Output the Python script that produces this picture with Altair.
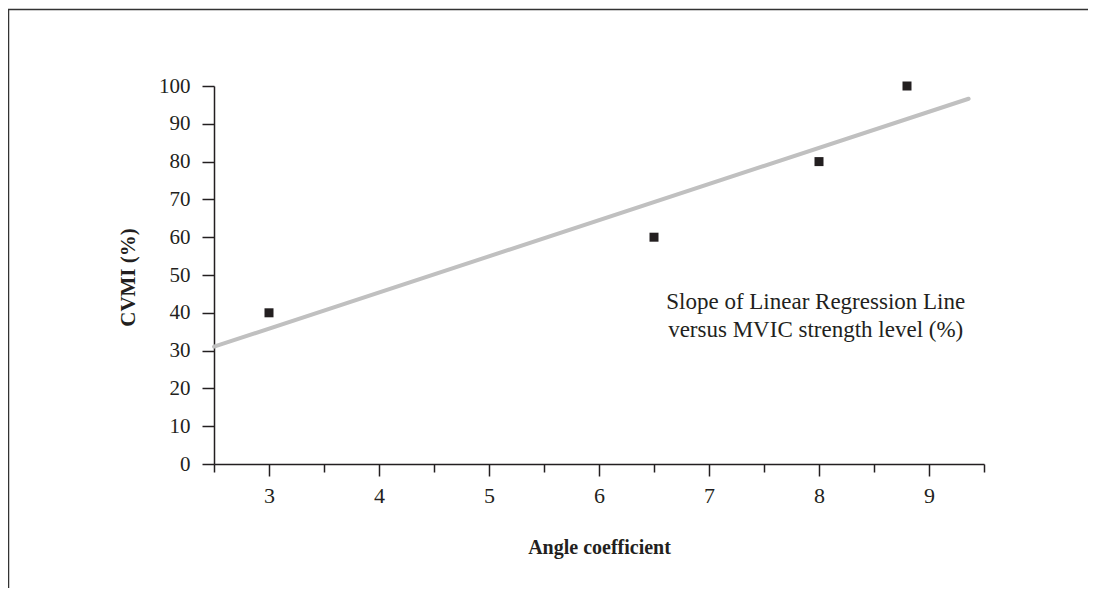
import altair as alt
import pandas as pd

# data
angle_coef = [3.0, 6.5, 8.0, 8.8]
cvmi = [40, 60, 80, 100]
x_ticks = [2.5, 3, 3.5, 4, 4.5, 5, 5.5, 6, 6.5, 7, 7.5, 8, 8.5, 9, 9.5]
y_ticks = [0, 10, 20, 30, 40, 50, 60, 70, 80, 90, 100]
fit_extent = [2.5, 9.36]
note_lines = ["Slope of Linear Regression Line", "versus MVIC strength level (%)"]
note_pos = {"x": 7.97, "y": 42.8}

df = pd.DataFrame({"x": angle_coef, "y": cvmi})

INK = "#231f20"
FONT = "Liberation Serif"

xscale = alt.Scale(domain=[2.5, 9.5], nice=False, zero=False)
yscale = alt.Scale(domain=[0, 100], nice=False)

xaxis = alt.Axis(
    values=x_ticks,
    labelExpr="datum.value % 1 === 0 ? format(datum.value, 'd') : ''",
    labelOverlap=False,
    labelFontSize=22,
    tickSize={"condition": {"test": "datum.value % 1 === 0", "value": 12}, "value": 8},
    labelPadding=9,
    grid=False,
    title="Angle coefficient",
    titleFontSize=20,
    titleX=385,
    titleY=83,
    titleBaseline="middle",
    titleAlign="center",
)
yaxis = alt.Axis(
    values=y_ticks,
    tickCount=11,
    labelOverlap=False,
    labelFontSize=21,
    tickSize=12,
    labelPadding=12,
    grid=False,
    title="CVMI (%)",
    titleFontSize=21,
    titleX=-86,
    titleY=191,
    titleAngle=-90,
    titleBaseline="middle",
    titleAlign="center",
)

base = alt.Chart(df)

border = alt.Chart(alt.Data(values=[{}])).mark_rect(
    filled=False, stroke="#333333", strokeWidth=1.5
).encode(
    x=alt.value(-205.5), x2=alt.value(2000), y=alt.value(-76.5), y2=alt.value(2000)
)

fit = base.transform_regression("x", "y", extent=fit_extent).mark_line(
    color="#c0c0c0", strokeWidth=4, strokeCap="round"
).encode(
    x=alt.X("x:Q", scale=xscale, axis=xaxis),
    y=alt.Y("y:Q", scale=yscale, axis=yaxis),
)

pts = base.mark_square(size=81, color=INK, opacity=1, filled=True).encode(
    x=alt.X("x:Q", scale=xscale, axis=xaxis),
    y=alt.Y("y:Q", scale=yscale, axis=yaxis),
)

note = alt.Chart(alt.Data(values=[{}])).mark_text(
    text=note_lines, font=FONT, fontSize=23, color=INK, lineHeight=28,
    align="center", baseline="middle"
).encode(
    x=alt.datum(note_pos["x"], scale=xscale, axis=xaxis),
    y=alt.datum(note_pos["y"], scale=yscale, axis=yaxis),
)

chart = alt.layer(border, fit, pts, note).properties(
    width=770,
    height=378,
    autosize=alt.AutoSizeParams(type="none"),
    padding={"left": 206, "top": 78, "right": 104, "bottom": 124},
).configure_view(stroke=None).configure_axis(
    domainColor=INK,
    domainWidth=1.5,
    tickColor=INK,
    tickWidth=1.5,
    labelFont=FONT,
    labelColor=INK,
    titleFont=FONT,
    titleFontWeight="bold",
    titleColor=INK,
)

chart.save("out.html", embed_options={"renderer": "svg", "actions": False})
